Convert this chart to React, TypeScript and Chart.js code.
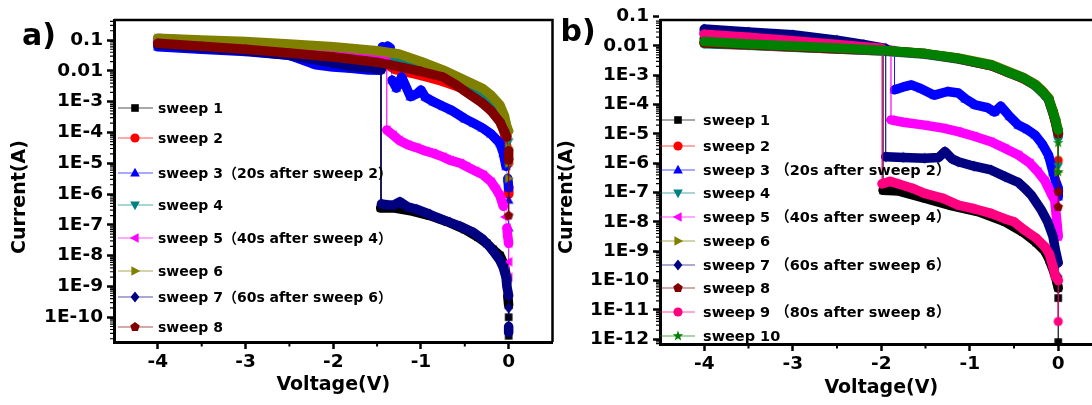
import { useEffect, useRef } from 'react';
import { Chart, registerables } from 'chart.js';

Chart.register(...registerables);

const FONT = '"DejaVu Sans", "Noto Sans CJK SC", sans-serif';

// ---------------- Panel a data (Voltage V, Current A) ----------------
const a1V = [-4, -3, -2, -1.5, -1.46, -1.46, -1.3, -1.1, -0.9, -0.7, -0.5, -0.35, -0.25, -0.18, -0.1, -0.05, -0.02, -0.01, 0, 0, 0];
const a1I = [0.079, 0.056, 0.028, 0.0178, 0.0158, 3.5e-7, 3.5e-7, 2.8e-7, 2.0e-7, 1.26e-7, 7.1e-8, 4.0e-8, 2.5e-8, 1.6e-8, 1.0e-8, 5.0e-9, 1.6e-9, 5.0e-10, 2.5e-10, 1.0e-10, 2.5e-11];
const a2V = [-4, -3, -2, -1.5, -1.3, -1.0, -0.75, -0.5, -0.3, -0.2, -0.1, -0.05, -0.02, 0, 0, 0];
const a2I = [0.1, 0.071, 0.045, 0.025, 0.0112, 7.1e-3, 4.5e-3, 2.5e-3, 1.12e-3, 6.3e-4, 2.5e-4, 1.0e-4, 3.2e-5, 1.0e-5, 1.6e-6, 1.0e-6];
const a3V = [-4, -3.5, -3, -2.5, -2.2, -2.0, -1.8, -1.6, -1.46, -1.44, -1.41, -1.38, -1.35, -1.33, -1.28, -1.22, -1.18, -1.12, -1.05, -1.0, -0.95, -0.86, -0.75, -0.65, -0.5, -0.4, -0.3, -0.2, -0.1, -0.06, -0.03, -0.01, 0, 0, 0];
const a3I = [0.06, 0.05, 0.042, 0.032, 0.0158, 0.0132, 0.012, 0.0107, 0.0105, 0.06, 0.05, 0.063, 0.056, 5.0e-3, 2.75e-3, 6.3e-3, 3.5e-3, 1.45e-3, 1.78e-3, 2.4e-3, 1.4e-3, 1.0e-3, 7.1e-4, 5.2e-4, 2.8e-4, 2.0e-4, 1.4e-4, 8.9e-5, 4.5e-5, 2.1e-5, 7.9e-6, 3.2e-6, 1.6e-6, 6.3e-7, 7.9e-8];
const a4V = [-4, -3, -2, -1.5, -1.0, -0.75, -0.5, -0.3, -0.2, -0.1, -0.05, -0.02, 0, 0];
const a4I = [0.107, 0.083, 0.056, 0.04, 0.0166, 8.9e-3, 4.0e-3, 2.1e-3, 1.2e-3, 5.0e-4, 2.5e-4, 1.1e-4, 5.0e-5, 1.0e-5];
const a5V = [-4, -3, -2, -1.5, -1.39, -1.39, -1.32, -1.25, -1.15, -1.05, -0.95, -0.86, -0.75, -0.67, -0.55, -0.48, -0.38, -0.29, -0.2, -0.14, -0.1, -0.06, -0.04, -0.02, -0.01, 0, 0, 0];
const a5I = [0.112, 0.079, 0.05, 0.035, 0.032, 1.2e-4, 8.3e-5, 5.6e-5, 4.0e-5, 3.2e-5, 2.5e-5, 2.1e-5, 1.6e-5, 1.26e-5, 1.0e-5, 7.8e-6, 5.6e-6, 4.2e-6, 2.5e-6, 1.4e-6, 8.9e-7, 4.0e-7, 1.8e-7, 7.9e-8, 4.1e-8, 2.5e-8, 6.3e-9, 2.0e-9];
const a6V = [-4, -3.5, -3, -2.5, -2, -1.5, -1.25, -1.0, -0.75, -0.5, -0.3, -0.2, -0.1, -0.05, -0.02, 0, 0, 0, 0];
const a6I = [0.115, 0.1, 0.089, 0.074, 0.06, 0.045, 0.035, 0.02, 0.0107, 5.0e-3, 2.7e-3, 1.6e-3, 7.8e-4, 3.6e-4, 1.55e-4, 1.1e-4, 3.2e-5, 1.0e-5, 3.2e-6];
const a7V = [-4, -3.5, -3, -2.5, -2, -1.8, -1.45, -1.45, -1.38, -1.3, -1.24, -1.15, -1.05, -0.9, -0.8, -0.67, -0.55, -0.4, -0.3, -0.22, -0.15, -0.1, -0.06, -0.03, -0.02, 0, 0, 0, 0];
const a7I = [0.071, 0.056, 0.045, 0.032, 0.0178, 0.0141, 0.0112, 4.8e-7, 4.4e-7, 4.5e-7, 5.6e-7, 3.8e-7, 3.2e-7, 2.2e-7, 1.66e-7, 1.2e-7, 8.9e-8, 5.6e-8, 3.5e-8, 2.0e-8, 1.12e-8, 7.1e-9, 4.0e-9, 2.0e-9, 1.0e-9, 5.0e-10, 2.0e-10, 5.0e-11, 3.2e-11];
const a8V = [-4, -3.5, -3, -2.5, -2, -1.5, -1.2, -1.0, -0.75, -0.6, -0.5, -0.3, -0.2, -0.1, -0.05, -0.02, 0, 0, 0];
const a8I = [0.078, 0.063, 0.05, 0.038, 0.028, 0.019, 0.0126, 9.5e-3, 6.3e-3, 3.5e-3, 2.2e-3, 8.9e-4, 5.0e-4, 2.2e-4, 1.1e-4, 7.1e-5, 2.5e-5, 1.26e-5, 2.0e-7];

const labelsA = ['sweep 1', 'sweep 2', 'sweep 3（20s after sweep 2）', 'sweep 4', 'sweep 5（40s after sweep 4）', 'sweep 6', 'sweep 7（60s after sweep 6）', 'sweep 8'];
const colorsA = ['#000000', '#FF0000', '#0000FF', '#008080', '#FF00FF', '#808000', '#000080', '#800000'];
const shapesA = ['square', 'circle', 'triUp', 'triDown', 'triLeft', 'triRight', 'diamond', 'pentagon'];
const yTicksA = [1e-1, 1e-2, 1e-3, 1e-4, 1e-5, 1e-6, 1e-7, 1e-8, 1e-9, 1e-10];
const yTickLabelsA = ['0.1', '0.01', '1E-3', '1E-4', '1E-5', '1E-6', '1E-7', '1E-8', '1E-9', '1E-10'];

// ---------------- Panel b data ----------------
const b1V = [-4, -3, -2, -1.98, -1.98, -1.8, -1.5, -1.2, -0.9, -0.6, -0.4, -0.25, -0.15, -0.1, -0.05, -0.02, 0, 0, 0];
const b1I = [0.0178, 0.0126, 8.3e-3, 7.9e-3, 1.2e-7, 1.12e-7, 6.3e-8, 3.5e-8, 2.2e-8, 1.0e-8, 4.5e-9, 2.0e-9, 1.0e-9, 5.0e-10, 2.0e-10, 1.0e-10, 5.5e-11, 2.5e-11, 7.9e-13];
const b2V = [-4, -3.5, -3, -2.5, -2, -1.5, -1.13, -0.75, -0.57, -0.4, -0.26, -0.18, -0.11, -0.06, -0.03, 0, 0];
const b2I = [0.0126, 0.0107, 9.3e-3, 7.9e-3, 6.9e-3, 5.4e-3, 3.7e-3, 2.1e-3, 1.26e-3, 7.9e-4, 4.5e-4, 2.7e-4, 1.5e-4, 5.2e-5, 2.5e-5, 1.0e-5, 1.26e-6];
const b3V = [-4, -3.5, -3, -2.5, -2, -1.85, -1.85, -1.75, -1.66, -1.55, -1.4, -1.25, -1.13, -1.05, -0.94, -0.8, -0.72, -0.65, -0.55, -0.45, -0.35, -0.26, -0.18, -0.11, -0.06, -0.03, 0, 0];
const b3I = [0.032, 0.024, 0.0158, 0.0112, 7.6e-3, 6.8e-3, 3.2e-4, 4.0e-4, 4.7e-4, 3.5e-4, 2.1e-4, 2.8e-4, 2.5e-4, 1.58e-4, 9.8e-5, 7.9e-5, 5.6e-5, 8.9e-5, 4.0e-5, 2.0e-5, 1.41e-5, 9.1e-6, 4.5e-6, 1.9e-6, 5.1e-7, 2.5e-7, 1.41e-7, 7.2e-8];
const b4V = [-4, -3.5, -3, -2.5, -2, -1.5, -1.13, -0.75, -0.57, -0.4, -0.26, -0.18, -0.11, -0.06, -0.03, 0, 0];
const b4I = [0.012, 0.0105, 9.1e-3, 7.9e-3, 6.8e-3, 5.2e-3, 3.6e-3, 2.1e-3, 1.26e-3, 7.9e-4, 4.4e-4, 2.6e-4, 1.5e-4, 5.0e-5, 2.5e-5, 7.9e-6, 7.9e-7];
const b5V = [-4, -3.5, -3, -2.5, -2, -1.89, -1.89, -1.75, -1.51, -1.3, -1.13, -0.95, -0.76, -0.6, -0.45, -0.32, -0.23, -0.15, -0.11, -0.07, -0.04, -0.01, 0];
const b5I = [0.028, 0.022, 0.0158, 0.0112, 7.9e-3, 7.2e-3, 3.0e-5, 2.5e-5, 2.0e-5, 1.58e-5, 1.2e-5, 8.3e-6, 5.4e-6, 3.2e-6, 1.9e-6, 1.0e-6, 5.1e-7, 2.5e-7, 1.41e-7, 7.9e-8, 5.5e-8, 6.8e-9, 3.2e-9];
const b6V = [-4, -3.5, -3, -2.5, -2, -1.5, -1.13, -0.75, -0.57, -0.4, -0.26, -0.18, -0.11, -0.06, -0.03, 0, 0];
const b6I = [0.0132, 0.0112, 9.5e-3, 8.3e-3, 7.1e-3, 5.5e-3, 3.9e-3, 2.3e-3, 1.38e-3, 8.7e-4, 5.0e-4, 3.0e-4, 1.74e-4, 6.3e-5, 3.2e-5, 1.26e-5, 5.0e-7];
const b7V = [-4, -3.5, -3, -2.5, -2.2, -1.95, -1.95, -1.75, -1.51, -1.35, -1.28, -1.2, -1.13, -0.95, -0.76, -0.6, -0.45, -0.38, -0.3, -0.19, -0.12, -0.06, -0.03, 0, 0];
const b7I = [0.038, 0.03, 0.024, 0.0158, 0.0112, 8.3e-3, 1.66e-6, 1.58e-6, 1.48e-6, 1.58e-6, 2.5e-6, 1.41e-6, 1.12e-6, 7.9e-7, 5.9e-7, 3.5e-7, 2.2e-7, 1.41e-7, 7.9e-8, 2.5e-8, 1.0e-8, 3.2e-9, 1.0e-9, 4.0e-10, 1.35e-10];
const b8V = [-4, -3.5, -3, -2.5, -2, -1.5, -1.13, -0.75, -0.57, -0.4, -0.26, -0.18, -0.11, -0.06, -0.03, 0, 0, 0];
const b8I = [0.0126, 0.011, 9.5e-3, 8.1e-3, 7.1e-3, 5.4e-3, 3.7e-3, 2.1e-3, 1.29e-3, 8.1e-4, 4.6e-4, 2.8e-4, 1.58e-4, 5.5e-5, 2.5e-5, 1.0e-5, 1.07e-7, 3.2e-8];
const b9V = [-4, -3.5, -3, -2.5, -2, -1.99, -1.99, -1.9, -1.81, -1.65, -1.51, -1.3, -1.13, -0.95, -0.76, -0.6, -0.5, -0.38, -0.25, -0.15, -0.1, -0.06, -0.03, 0, 0];
const b9I = [0.025, 0.02, 0.0151, 0.0112, 8.3e-3, 7.9e-3, 2.0e-7, 2.4e-7, 2.0e-7, 1.41e-7, 9.3e-8, 6.3e-8, 3.7e-8, 2.8e-8, 1.95e-8, 1.26e-8, 1.0e-8, 5.2e-9, 2.8e-9, 1.41e-9, 7.9e-10, 3.0e-10, 1.35e-10, 1.0e-10, 4.0e-12];
const b10V = [-4, -3.5, -3, -2.5, -2, -1.5, -1.13, -0.75, -0.57, -0.4, -0.26, -0.18, -0.11, -0.06, -0.03, -0.02, 0, 0, 0];
const b10I = [0.0141, 0.0117, 0.01, 8.5e-3, 7.2e-3, 5.5e-3, 3.8e-3, 2.2e-3, 1.3e-3, 8.3e-4, 4.7e-4, 2.8e-4, 1.6e-4, 5.8e-5, 2.8e-5, 2.0e-5, 1.35e-5, 5.0e-6, 5.0e-7];

const labelsB = ['sweep 1', 'sweep 2', 'sweep 3 （20s after sweep 2）', 'sweep 4', 'sweep 5 （40s after sweep 4）', 'sweep 6', 'sweep 7 （60s after sweep 6）', 'sweep 8', 'sweep 9 （80s after sweep 8）', 'sweep 10'];
const colorsB = ['#000000', '#FF0000', '#0000FF', '#008080', '#FF00FF', '#808000', '#000080', '#800000', '#FF0080', '#008000'];
const shapesB = ['square', 'circle', 'triUp', 'triDown', 'triLeft', 'triRight', 'diamond', 'pentagon', 'circle', 'star'];
const yTicksB = [1e-1, 1e-2, 1e-3, 1e-4, 1e-5, 1e-6, 1e-7, 1e-8, 1e-9, 1e-10, 1e-11, 1e-12];
const yTickLabelsB = ['0.1', '0.01', '1E-3', '1E-4', '1E-5', '1E-6', '1E-7', '1E-8', '1E-9', '1E-10', '1E-11', '1E-12'];

// ---------------- shared axis ticks ----------------
const xTicks = [-4, -3, -2, -1, 0];
const xTickLabels = ['-4', '-3', '-2', '-1', '0'];
const xMinorTicks = [-3.5, -2.5, -1.5, -0.5];

function rgba(hex: string, a: number) {
  const n = parseInt(hex.slice(1), 16);
  return `rgba(${(n >> 16) & 255},${(n >> 8) & 255},${n & 255},${a})`;
}

function makeMarker(shape: string, color: string): HTMLCanvasElement {
  const c = document.createElement('canvas');
  c.width = 12;
  c.height = 12;
  const g = c.getContext('2d')!;
  g.fillStyle = color;
  const cx = 6, cy = 6;
  const poly = (pts: number[][]) => {
    g.beginPath();
    pts.forEach(([x, y], i) => (i ? g.lineTo(cx + x, cy + y) : g.moveTo(cx + x, cy + y)));
    g.closePath();
    g.fill();
  };
  const rot = (pts: number[][], deg: number) => {
    const a = (deg * Math.PI) / 180;
    return pts.map(([x, y]) => [x * Math.cos(a) - y * Math.sin(a), x * Math.sin(a) + y * Math.cos(a)]);
  };
  const tri = [[0, -5.2], [4.8, 3.6], [-4.8, 3.6]];
  switch (shape) {
    case 'square': g.fillRect(cx - 3.8, cy - 3.8, 7.6, 7.6); break;
    case 'circle': g.beginPath(); g.arc(cx, cy, 4.6, 0, Math.PI * 2); g.fill(); break;
    case 'triUp': poly(tri); break;
    case 'triDown': poly(rot(tri, 180)); break;
    case 'triLeft': poly(rot(tri, -90)); break;
    case 'triRight': poly(rot(tri, 90)); break;
    case 'diamond': poly([[0, -5.4], [4.4, 0], [0, 5.4], [-4.4, 0]]); break;
    case 'pentagon':
      poly(Array.from({ length: 5 }, (_, k) => {
        const a = -Math.PI / 2 + (k * 2 * Math.PI) / 5;
        return [5 * Math.cos(a), 5 * Math.sin(a)];
      }));
      break;
    case 'star':
      poly(Array.from({ length: 10 }, (_, k) => {
        const a = -Math.PI / 2 + (k * Math.PI) / 5;
        const r = k % 2 ? 2.3 : 5.5;
        return [r * Math.cos(a), r * Math.sin(a)];
      }));
      break;
  }
  return c;
}

interface Spec {
  V: number[][];
  I: number[][];
  labels: string[];
  colors: string[];
  shapes: string[];
  yMin: number;
  yMax: number;
  yTicks: number[];
  yTickLabels: string[];
  yAxisWidth: number;
  xAxisHeight: number;
  xTitlePad: number;
  legendRows: number[];
  legendLine: [number, number];
  legendMarkerX: number;
  legendTextX: number;
  legendFont: number;
  yTitleX: number;
  yTitleY: number;
  panelLabel: string;
  panelLabelX: number;
  panelLabelY: number;
}

const specA: Spec = {
  V: [a1V, a2V, a3V, a4V, a5V, a6V, a7V, a8V],
  I: [a1I, a2I, a3I, a4I, a5I, a6I, a7I, a8I],
  labels: labelsA,
  colors: colorsA,
  shapes: shapesA,
  yMin: 1.57e-11,
  yMax: 0.446,
  yTicks: yTicksA,
  yTickLabels: yTickLabelsA,
  yAxisWidth: 114,
  xAxisHeight: 63,
  xTitlePad: 8.6,
  legendRows: [108, 138, 173, 205, 238, 271, 297, 327],
  legendLine: [118, 153],
  legendMarkerX: 135,
  legendTextX: 158,
  legendFont: 14,
  yTitleX: 20,
  yTitleY: 197,
  panelLabel: 'a)',
  panelLabelX: 39,
  panelLabelY: 37,
};

const specB: Spec = {
  V: [b1V, b2V, b3V, b4V, b5V, b6V, b7V, b8V, b9V, b10V],
  I: [b1I, b2I, b3I, b4I, b5I, b6I, b7I, b8I, b9I, b10I],
  labels: labelsB,
  colors: colorsB,
  shapes: shapesB,
  yMin: 6.8e-13,
  yMax: 0.077,
  yTicks: yTicksB,
  yTickLabels: yTickLabelsB,
  yAxisWidth: 104,
  xAxisHeight: 61,
  xTitlePad: 5.6,
  legendRows: [120, 146, 170, 193, 217, 241, 265, 288, 312, 336],
  legendLine: [104, 139],
  legendMarkerX: 122,
  legendTextX: 147,
  legendFont: 14.5,
  yTitleX: 11,
  yTitleY: 197,
  panelLabel: 'b)',
  panelLabelX: 22,
  panelLabelY: 33,
};

const BAND = 9.5;

function buildConfig(spec: Spec): any {
  const markers = spec.shapes.map((s, i) => makeMarker(s, spec.colors[i]));
  const datasets = spec.V.map((vs, i) => {
    const color = spec.colors[i];
    const thin = rgba(color, 0.55);
    const isVertical = (ctx: any) => Math.abs(ctx.p0.x - ctx.p1.x) < 2 && Math.abs(ctx.p0.y - ctx.p1.y) > 10;
    return {
      label: spec.labels[i],
      data: vs.map((v, k) => ({ x: v, y: spec.I[i][k] })),
      borderColor: color,
      backgroundColor: color,
      borderWidth: BAND,
      borderJoinStyle: 'round',
      borderCapStyle: 'round',
      tension: 0,
      pointStyle: markers[i],
      pointRadius: 5,
      pointHoverRadius: 5,
      order: -i,
      segment: {
        borderWidth: (ctx: any) => (isVertical(ctx) ? 1 : BAND),
        borderColor: (ctx: any) => (isVertical(ctx) ? thin : color),
      },
    };
  });

  const decor = {
    id: 'decor',
    afterDraw(chart: any) {
      const ctx = chart.ctx as CanvasRenderingContext2D;
      const { left, right, top, bottom } = chart.chartArea;
      const ys = chart.scales.y;
      const xs = chart.scales.x;
      ctx.save();
      ctx.strokeStyle = '#000';
      // frame (top, right)
      ctx.lineWidth = 2.5;
      ctx.beginPath();
      ctx.moveTo(left, top);
      ctx.lineTo(right, top);
      ctx.lineTo(right, bottom);
      ctx.stroke();
      // minor ticks on log axis
      ctx.lineWidth = 1.2;
      const e0 = Math.floor(Math.log10(spec.yMin));
      const e1 = Math.ceil(Math.log10(spec.yMax));
      ctx.beginPath();
      for (let e = e0; e <= e1; e++) {
        for (let k = 2; k <= 9; k++) {
          const v = k * Math.pow(10, e);
          if (v <= spec.yMin || v >= spec.yMax) continue;
          const py = ys.getPixelForValue(v);
          ctx.moveTo(left - 4, py);
          ctx.lineTo(left, py);
        }
      }
      ctx.stroke();
      ctx.lineWidth = 2;
      ctx.beginPath();
      xMinorTicks.forEach((v) => {
        const px = xs.getPixelForValue(v);
        ctx.moveTo(px, bottom);
        ctx.lineTo(px, bottom + 4.5);
      });
      ctx.stroke();
      // y title
      ctx.fillStyle = '#000';
      ctx.font = `bold 19px ${FONT}`;
      ctx.textAlign = 'center';
      ctx.textBaseline = 'middle';
      ctx.save();
      ctx.translate(spec.yTitleX, spec.yTitleY);
      ctx.rotate(-Math.PI / 2);
      ctx.fillText('Current(A)', 0, 0);
      ctx.restore();
      // panel label
      ctx.font = `bold 30px ${FONT}`;
      ctx.fillText(spec.panelLabel, spec.panelLabelX, spec.panelLabelY);
      // legend
      ctx.font = `bold ${spec.legendFont}px ${FONT}`;
      ctx.textAlign = 'left';
      spec.labels.forEach((lab, i) => {
        const y = spec.legendRows[i];
        ctx.strokeStyle = rgba(spec.colors[i], 0.45);
        ctx.lineWidth = 1.5;
        ctx.beginPath();
        ctx.moveTo(spec.legendLine[0], y);
        ctx.lineTo(spec.legendLine[1], y);
        ctx.stroke();
        const m = markers[i];
        ctx.drawImage(m, spec.legendMarkerX - m.width / 2, y - m.height / 2);
        ctx.fillStyle = '#000';
        ctx.fillText(lab, spec.legendTextX, y + 1);
      });
      ctx.restore();
    },
  };

  const tickFont = { family: FONT, size: 18.5, weight: 'bold' as const };
  return {
    type: 'line',
    data: { datasets },
    options: {
      animation: false,
      responsive: false,
      maintainAspectRatio: false,
      devicePixelRatio: 1,
      events: [],
      layout: { padding: { left: 0, top: 20, right: 5, bottom: 0 } },
      plugins: { legend: { display: false }, tooltip: { enabled: false } },
      scales: {
        x: {
          type: 'linear',
          min: -4.5,
          max: 0.5,
          bounds: 'data',
          afterBuildTicks: (s: any) => { s.ticks = xTicks.map((v) => ({ value: v })); },
          afterFit: (s: any) => { s.height = spec.xAxisHeight; },
          ticks: {
            autoSkip: false,
            maxRotation: 0,
            color: '#000',
            font: tickFont,
            padding: 2,
            callback: (_v: any, i: number) => xTickLabels[i],
          },
          grid: { display: true, drawOnChartArea: false, drawTicks: true, tickLength: 7, tickWidth: 2.5, tickColor: '#000', color: '#000' },
          border: { display: true, color: '#000', width: 3 },
          title: {
            display: true,
            text: 'Voltage(V)',
            color: '#000',
            font: { family: FONT, size: 19, weight: 'bold' },
            padding: { top: 0, bottom: spec.xTitlePad },
          },
        },
        y: {
          type: 'logarithmic',
          min: spec.yMin,
          max: spec.yMax,
          bounds: 'data',
          afterBuildTicks: (s: any) => { s.ticks = spec.yTicks.map((v) => ({ value: v })); },
          afterFit: (s: any) => { s.width = spec.yAxisWidth; },
          ticks: {
            autoSkip: false,
            color: '#000',
            font: tickFont,
            padding: 4,
            callback: (_v: any, i: number) => spec.yTickLabels[i],
          },
          grid: { display: true, drawOnChartArea: false, drawTicks: true, tickLength: 7, tickWidth: 2.5, tickColor: '#000', color: '#000' },
          border: { display: true, color: '#000', width: 3 },
          title: { display: false },
        },
      },
    },
    plugins: [decor],
  };
}

export default function App() {
  const refA = useRef<HTMLCanvasElement>(null);
  const refB = useRef<HTMLCanvasElement>(null);
  useEffect(() => {
    const ca = new Chart(refA.current!, buildConfig(specA));
    const cb = new Chart(refB.current!, buildConfig(specB));
    return () => {
      ca.destroy();
      cb.destroy();
    };
  }, []);
  return (
    <div style={{ position: 'fixed', left: 0, top: 0, width: 1092, height: 405, overflow: 'hidden', background: '#fff' }}>
      <canvas ref={refA} width={567} height={405} style={{ position: 'absolute', left: 0, top: 0, width: 567, height: 405 }} />
      <canvas ref={refB} width={561} height={405} style={{ position: 'absolute', left: 556, top: 0, width: 561, height: 405 }} />
    </div>
  );
}
